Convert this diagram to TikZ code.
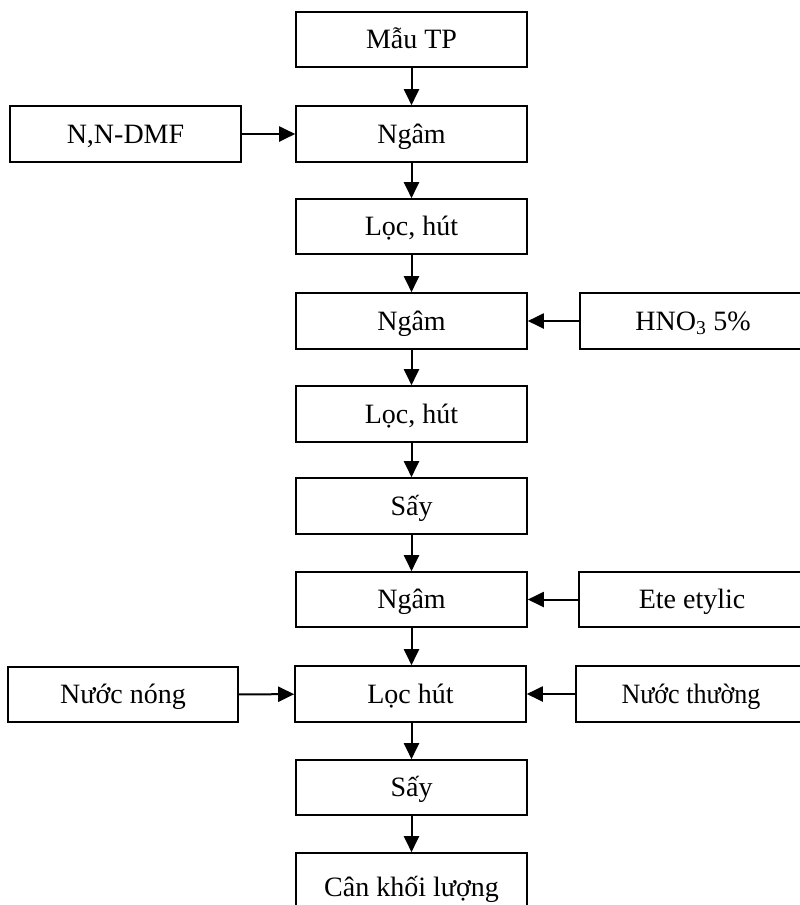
\documentclass[tikz,border=0pt]{standalone}
\usepackage{fontspec}
\usepackage{graphicx}
\setmainfont{Liberation Serif}
\usetikzlibrary{arrows.meta}
\tikzset{
  box/.style={draw, line width=1.6pt, minimum width=231pt, minimum height=56pt,
    inner sep=0pt, anchor=center, font=\fontsize{28pt}{32pt}\selectfont,
    text height=25.2pt, text depth=6.7pt},
  flow/.style={line width=2pt, -{Triangle[length=16pt,width=15pt]}}
}
\begin{document}
\begin{tikzpicture}[x=1pt,y=-1pt]
\useasboundingbox (0,0) rectangle (800,905);
\node[box, minimum height=55pt] (m1) at (411.5,39.5) {Mẫu TP};
\node[box] (m2) at (411.5,134) {Ngâm};
\node[box, minimum height=55pt] (m3) at (411.5,226.5) {Lọc, hút};
\node[box] (m4) at (411.5,321) {Ngâm};
\node[box] (m5) at (411.5,414) {Lọc, hút};
\node[box] (m6) at (411.5,506) {Sấy};
\node[box, minimum height=55pt] (m7) at (411.5,599.5) {Ngâm};
\node[box] (m8) at (410.5,694) {Lọc hút};
\node[box, minimum height=55pt] (m9) at (411.5,787.5) {Sấy};
\node[box, minimum height=68pt] (m10) at (411.5,887) {Cân khối lượng};

\node[box] (s1) at (125.5,134) {N,N-DMF};
\node[box, minimum width=226pt] (s2) at (693,321) {HNO\textsubscript{3} 5\%};
\node[box, minimum width=226pt, minimum height=55pt] (s3) at (692,599.5) {Ete etylic};
\node[box, minimum width=230pt, minimum height=55pt] (s4) at (123,694.5) {Nước nóng};
\node[box, minimum width=230pt] (s5) at (691,694) {\scalebox{0.93}[1]{Nước thường}};

\draw[flow] (m1) -- (m2);
\draw[flow] (m2) -- (m3);
\draw[flow] (m3) -- (m4);
\draw[flow] (m4) -- (m5);
\draw[flow] (m5) -- (m6);
\draw[flow] (m6) -- (m7);
\draw[flow] (m7.south) -- (m8.north -| m7.south);
\draw[flow] (m8.south -| m9.north) -- (m9.north);
\draw[flow] (m9) -- (m10);

\draw[flow] (s1) -- (m2);
\draw[flow] (s2) -- (m4);
\draw[flow] (s3) -- (m7);
\draw[flow] (s4) -- (m8);
\draw[flow] (s5) -- (m8);
\end{tikzpicture}
\end{document}
